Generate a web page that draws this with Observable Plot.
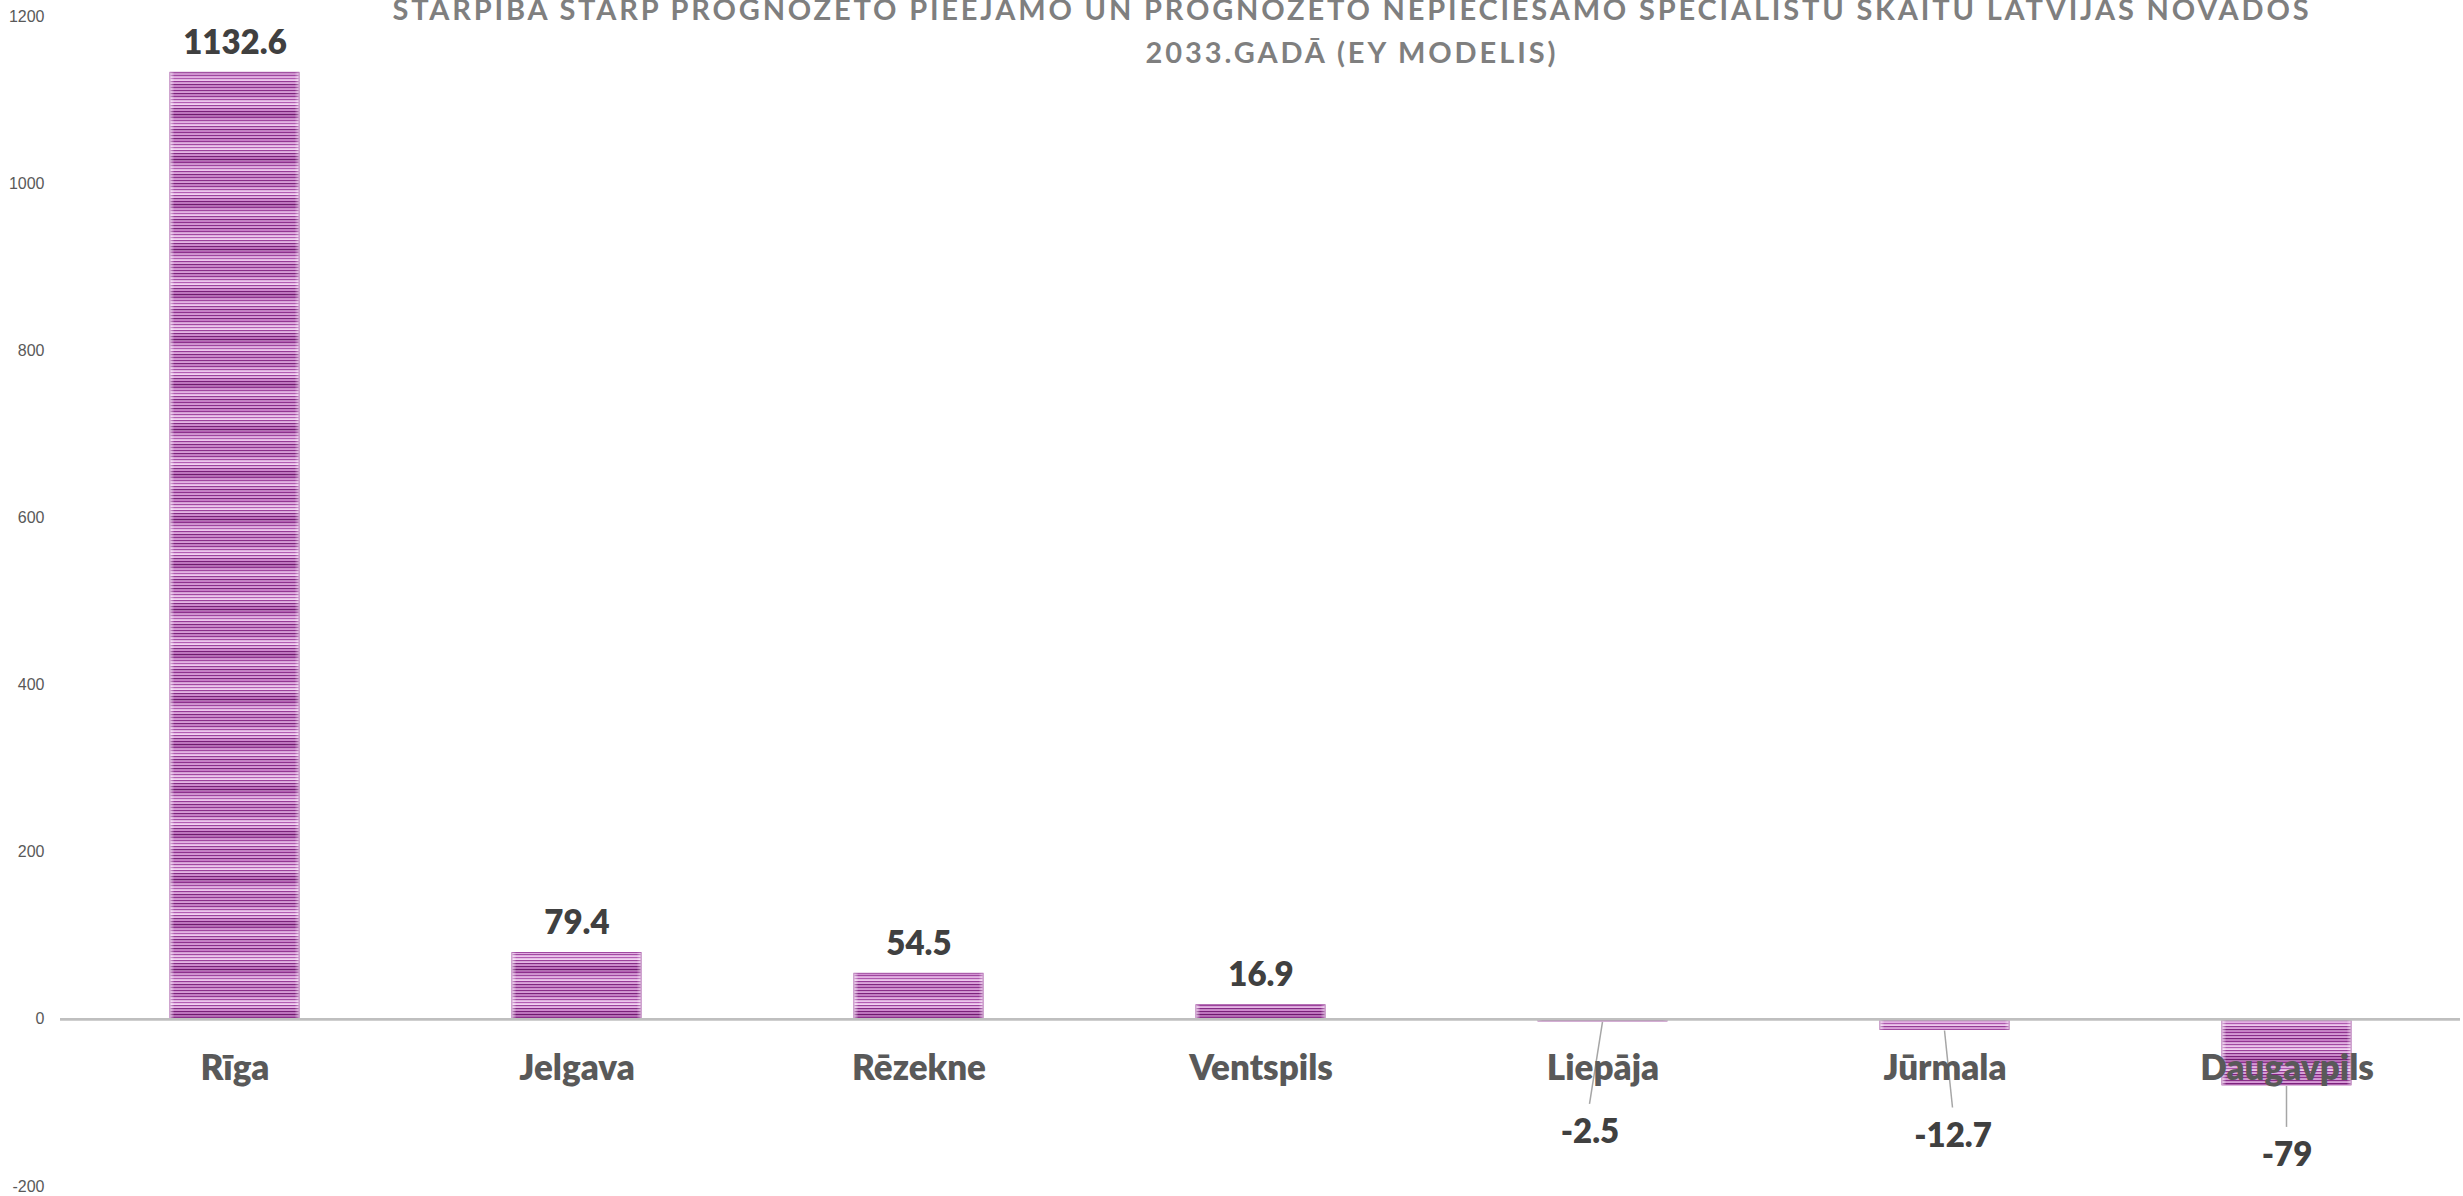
<!DOCTYPE html>
<html>
<head>
<meta charset="utf-8">
<script src="https://cdn.jsdelivr.net/npm/d3@7"></script>
<script src="https://cdn.jsdelivr.net/npm/@observablehq/plot@0.6"></script>
<style>
  html, body { margin: 0; padding: 0; background: #ffffff; overflow: hidden; }
  #chart svg { display: block; }
</style>
</head>
<body>
<div id="chart"></div>
<script>
// ---- data ----
const categories = ["Rīga", "Jelgava", "Rēzekne", "Ventspils", "Liepāja", "Jūrmala", "Daugavpils"];
const values = [1132.6, 79.4, 54.5, 16.9, -2.5, -12.7, -79];
const yTicks = [-200, 0, 200, 400, 600, 800, 1000, 1200];
const titleLines = [
  "STARPĪBA STARP PROGNOZĒTO PIEEJAMO UN PROGNOZĒTO NEPIECIEŠAMO SPECIĀLISTU SKAITU LATVIJAS NOVADOS",
  "2033.GADĀ (EY MODELIS)"
];

// ---- layout / style config ----
const W = 2463, H = 1196;
const FONT = "Lato, 'Open Sans', sans-serif";
// callout offsets (px) for labels of negative bars, relative to bar end
const calloutNudge = { "Liepāja": [-13, 111], "Jūrmala": [8, 106], "Daugavpils": [0, 70] };
const titleWidths = [1919, 413];
// stripe texture: pairs of (dark, light) lines
const stripeColors = [
  "#8a2e8a", "#d89ad8", "#7c227c", "#c77dc7", "#923692", "#e2aee2",
  "#a24aa2", "#ecc4ec", "#b25cb2", "#f2d2f2", "#9c429c", "#e6b4e6",
  "#842a84", "#cf8acf", "#7a207a", "#c070c0", "#6e1a6e", "#b462b4",
  "#8c308c", "#d494d4", "#9e469e", "#e4b0e4", "#ae58ae", "#eec8ee",
  "#963a96", "#dca2dc", "#802680", "#ca82ca", "#8e328e", "#d698d6"
];
const stripeH = 1.5;

const data = categories.map((c, i) => ({ category: c, value: values[i], label: String(values[i]) }));
const positive = data.filter(d => d.value >= 0);
const negative = data.filter(d => d.value < 0);

const plot = Plot.plot({
  width: W,
  height: H,
  marginTop: 16,
  marginBottom: 10,
  marginLeft: 60,
  marginRight: 3,
  style: { fontFamily: FONT, background: "#ffffff", overflow: "visible" },
  x: { domain: categories, paddingInner: 0.624, paddingOuter: 0.312, align: 0.5, axis: null },
  y: { domain: [-200, 1200], axis: null },
  marks: [
    Plot.axisY(yTicks, {
      anchor: "left", tickSize: 0, tickPadding: 16, label: null,
      tickFormat: d => String(d),
      fontSize: 16, fontFamily: "'Liberation Sans', Arial, sans-serif", fill: "#595959"
    }),
    Plot.barY(data, {
      x: "category", y: "value",
      fill: "url(#stripes)", stroke: "#a04aa0", strokeWidth: 1
    }),
    Plot.barY(data, {
      x: "category", y: "value",
      fill: "url(#edgeGlow)"
    }),
    Plot.ruleY([0], { stroke: "#bfbfbf", strokeWidth: 2.7 }),
    Plot.text(data, {
      x: "category", y: 0, text: "category", dy: 61, lineAnchor: "bottom",
      fontSize: 35, fontWeight: 800, fill: "#595959", fontFamily: FONT
    }),
    Plot.text(positive, {
      x: "category", y: "value", text: "label", dy: -19, lineAnchor: "bottom",
      fontSize: 33, fontWeight: 800, fill: "#404040", fontFamily: FONT
    }),
    ...negative.map(d => Plot.text([d], {
      x: "category", y: "value", text: "label",
      dx: calloutNudge[d.category][0], dy: calloutNudge[d.category][1], lineAnchor: "middle",
      fontSize: 33, fontWeight: 800, fill: "#404040", fontFamily: FONT
    })),
    Plot.text([titleLines[0]], {
      frameAnchor: "top", dx: 90, dy: 3, lineAnchor: "bottom", text: d => d,
      fontSize: 29, fontWeight: 700, fill: "#7f7f7f", fontFamily: FONT
    }),
    Plot.text([titleLines[1]], {
      frameAnchor: "top", dx: 90, dy: 46, lineAnchor: "bottom", text: d => d,
      fontSize: 29, fontWeight: 700, fill: "#7f7f7f", fontFamily: FONT
    })
  ]
});

document.getElementById("chart").appendChild(plot);

const svg = d3.select(plot);

// letter-spaced title lines fitted to the reference widths
function fitTitles() {
  svg.selectAll("text").each(function () {
    const i = titleLines.indexOf(this.textContent);
    if (i < 0) return;
    const t = d3.select(this);
    t.style("letter-spacing", "0px").attr("dx", null);
    const natural = this.getComputedTextLength();
    const ls = (titleWidths[i] - natural) / titleLines[i].length;
    t.style("letter-spacing", ls + "px").attr("dx", (ls / 2).toFixed(2));
  });
}
try { fitTitles(); } catch (e) { console.log(e); }
if (document.fonts && document.fonts.ready) document.fonts.ready.then(() => { try { fitTitles(); } catch (e) {} });

// stripe texture and edge glow for bars
const defs = svg.insert("defs", ":first-child");
const pat = defs.append("pattern")
  .attr("id", "stripes")
  .attr("patternUnits", "userSpaceOnUse")
  .attr("width", 8)
  .attr("height", stripeColors.length * stripeH);
stripeColors.forEach((c, i) => {
  pat.append("rect").attr("x", 0).attr("y", i * stripeH).attr("width", 8).attr("height", stripeH + 0.05).attr("fill", c);
});
const glow = defs.append("linearGradient")
  .attr("id", "edgeGlow").attr("x1", 0).attr("x2", 1).attr("y1", 0).attr("y2", 0);
[[0, 0.55], [0.035, 0], [0.965, 0], [1, 0.45]].forEach(([o, a]) => {
  glow.append("stop").attr("offset", o).attr("stop-color", "#ffffff").attr("stop-opacity", a);
});

// leader lines for negative-value callouts, positioned through Plot's scales
const xs = plot.scale("x"), ys = plot.scale("y");
const cx = c => xs.apply(c) + xs.bandwidth / 2;
const ruleNode = svg.select('g[aria-label="rule"]').node();
const leaders = svg.insert("g", ruleNode ? () => ruleNode.nextSibling : null).attr("aria-label", "leaders");
negative.forEach(d => {
  const [ndx, ndy] = calloutNudge[d.category];
  const x0 = cx(d.category), y0 = ys.apply(d.value);
  leaders.append("line")
    .attr("x1", x0).attr("y1", y0 + 1)
    .attr("x2", x0 + ndx).attr("y2", y0 + ndy - 28)
    .attr("stroke", "#a6a6a6").attr("stroke-width", 1.5);
});
</script>
</body>
</html>
